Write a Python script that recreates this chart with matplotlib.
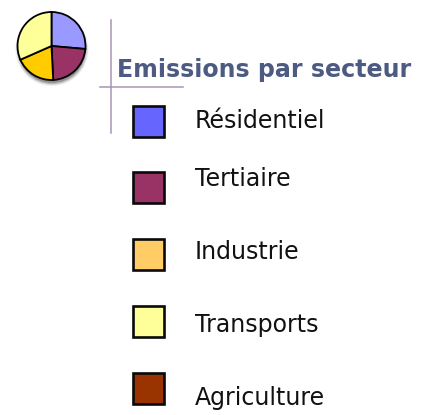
#!/usr/bin/env python3
"""Pie icon and sector legend: emissions par secteur."""
import matplotlib
matplotlib.use("Agg")
import matplotlib.pyplot as plt
from matplotlib.patches import Circle, Rectangle

W, H = 427, 415

# Pie shares, clockwise from 12 o'clock
pie_shares = [26.4, 22.8, 19.2, 31.6]
pie_colors = ["#9999ff", "#993366", "#ffcc00", "#ffff99"]

# Legend
sectors = ["Résidentiel", "Tertiaire", "Industrie", "Transports", "Agriculture"]
sector_colors = ["#6666ff", "#993366", "#ffcc66", "#ffff99", "#993300"]
box_tops = [106, 172, 239, 306, 373]
text_baselines = [128, 186, 259, 332, 405]

fig = plt.figure(figsize=(W / 100, H / 100), dpi=100, facecolor="white")

# Background axes in pixel coordinates (y pointing down)
ax = fig.add_axes([0, 0, 1, 1])
ax.set_xlim(0, W)
ax.set_ylim(H, 0)
ax.axis("off")

# Soft shadow under the pie
for grow, alpha in [(2.5, 0.07), (1.5, 0.12), (0.5, 0.18), (-0.5, 0.28)]:
    ax.add_patch(Circle((52, 49.5), 34 + grow, color="#303030", alpha=alpha, lw=0))

# Thin cross lines
ax.plot([111.5, 111.5], [20, 133], color="#a594b4", lw=1.1)
ax.plot([100, 183], [87.5, 87.5], color="#a594b4", lw=1.1)

ax.text(117, 77, "Emissions par secteur", fontsize=17.1, fontweight="bold",
        color="#4d5b82", family="DejaVu Sans", va="baseline", ha="left")

for name, col, top, base in zip(sectors, sector_colors, box_tops, text_baselines):
    ax.add_patch(Rectangle((133.5, top), 30.5, 31, facecolor=col, edgecolor="#0a0a0a", lw=1.9))
    ax.text(195, base, name, fontsize=17, color="#111111", va="baseline", ha="left")

# Pie, in its own axes
cx, cy, r = 51.5, 46, 34
pie_ax = fig.add_axes([(cx - r) / W, 1 - (cy + r) / H, 2 * r / W, 2 * r / H])
pie_ax.pie(pie_shares, colors=pie_colors, startangle=90, counterclock=False, radius=1.0,
           wedgeprops=dict(edgecolor="black", linewidth=1.3))
pie_ax.set_xlim(-1, 1)
pie_ax.set_ylim(-1, 1)
pie_ax.patch.set_alpha(0)
for a in pie_ax.patches:
    a.set_clip_on(False)

plt.savefig("out.png", dpi=100)
